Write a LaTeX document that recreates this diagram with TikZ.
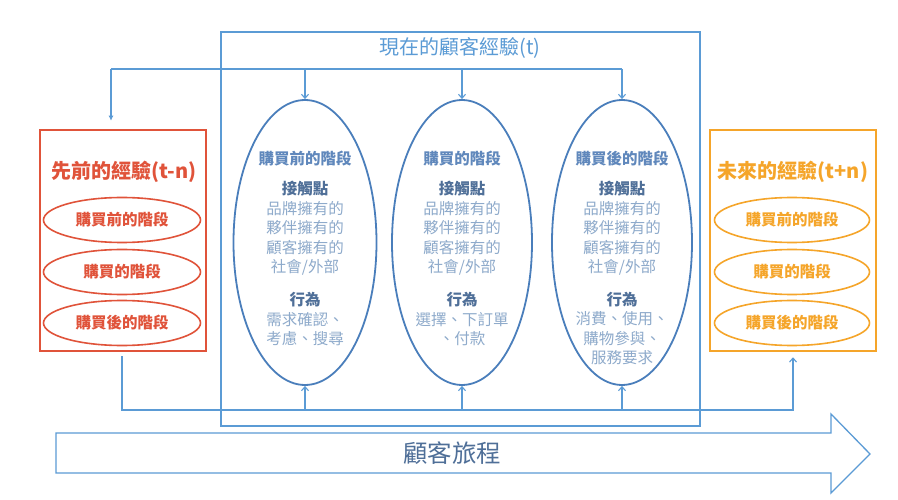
\documentclass[tikz,border=0pt]{standalone}
\usepackage{fontspec}
\usetikzlibrary{arrows.meta,shapes.geometric}
\newfontfamily\cjk{Noto Sans CJK TC}
\definecolor{bline}{HTML}{5B9BD5}
\definecolor{bedge}{HTML}{4A7EBB}
\definecolor{bhead}{HTML}{6088BC}
\definecolor{bbody}{HTML}{8EAACB}
\definecolor{bdark}{HTML}{4F6F98}
\definecolor{rcol}{HTML}{E0533A}
\definecolor{ocol}{HTML}{F5A52A}
\tikzset{
  box/.style={draw, rectangle, inner sep=0pt, line width=2.5pt},
  pill/.style={draw, ellipse, inner sep=0pt, line width=1.6pt, font=\cjk\bfseries\fontsize{15.5}{18}\selectfont},
  stage/.style={draw=bedge, ellipse, inner sep=0pt, line width=1.8pt},
  conn/.style={draw=bline, line width=1.1pt},
  arr/.style={conn, -{Straight Barb[length=4pt,width=7pt]}},
  head/.style={font=\cjk\bfseries\fontsize{15.5}{19.5}\selectfont, text=bhead, align=center, inner sep=0pt},
  body/.style={font=\cjk\fontsize{15.5}{19.5}\selectfont, text=bbody, align=center, inner sep=0pt},
}
\newcommand{\bh}[1]{{\bfseries\color{bdark}#1}}
\begin{document}
\begin{tikzpicture}[x=1pt,y=-1pt]
\useasboundingbox (0,0) rectangle (898,500);
\fill[white] (0,0) rectangle (898,500);

% big journey arrow
\draw[bline, line width=1.3pt, line join=miter] (56,433) -- (831,433) -- (831,414) -- (870,454) -- (831,493) -- (831,473) -- (56,473) -- cycle;
\node[font=\cjk\fontsize{24.5}{28}\selectfont, text=bdark, inner sep=0pt] (journey) at (452,453) {顧客旅程};

% current experience box
\node[box, draw=bline, minimum width=479pt, minimum height=394pt] (cbox) at (460.5,229) {};
\node[font=\cjk\fontsize{20}{22}\selectfont, text=bline, inner sep=0pt] (ctitle) at (460,48) {現在的顧客經驗(t)};

% previous experience
\node[box, draw=rcol, minimum width=166pt, minimum height=221pt] (rbox) at (123,240.5) {};
\node[font=\cjk\bfseries\fontsize{20}{22}\selectfont, text=rcol, inner sep=0pt] (rtitle) at (124,172) {先前的經驗(t-n)};
\node[pill, draw=rcol, text=rcol, minimum width=157pt, minimum height=45pt] (r1) at (122,220) {購買前的階段};
\node[pill, draw=rcol, text=rcol, minimum width=157pt, minimum height=45pt] (r2) at (122,272) {購買的階段};
\node[pill, draw=rcol, text=rcol, minimum width=157pt, minimum height=45pt] (r3) at (122,323) {購買後的階段};

% future experience
\node[box, draw=ocol, minimum width=166pt, minimum height=221pt] (obox) at (793,240.5) {};
\node[font=\cjk\bfseries\fontsize{20}{22}\selectfont, text=ocol, inner sep=0pt] (otitle) at (793,172) {未來的經驗(t+n)};
\node[pill, draw=ocol, text=ocol, minimum width=155pt, minimum height=45pt] (o1) at (792,220) {購買前的階段};
\node[pill, draw=ocol, text=ocol, minimum width=155pt, minimum height=45pt] (o2) at (792,272) {購買的階段};
\node[pill, draw=ocol, text=ocol, minimum width=155pt, minimum height=45pt] (o3) at (792,323) {購買後的階段};

% stage ellipses
\node[stage, minimum width=143pt, minimum height=285pt] (e1) at (305,242.5) {};
\node[stage, minimum width=140pt, minimum height=285pt] (e2) at (462,242.5) {};
\node[stage, minimum width=140pt, minimum height=285pt] (e3) at (622,242.5) {};

\node[head] (h1) at (305,159) {購買前的階段};
\node[head] (h2) at (462,159) {購買的階段};
\node[head] (h3) at (622,159) {購買後的階段};

\node[body] (t1) at (305,228.5) {\bh{接觸點}\\品牌擁有的\\夥伴擁有的\\顧客擁有的\\社會/外部};
\node[body] (t2) at (462,228.5) {\bh{接觸點}\\品牌擁有的\\夥伴擁有的\\顧客擁有的\\社會/外部};
\node[body] (t3) at (622,228.5) {\bh{接觸點}\\品牌擁有的\\夥伴擁有的\\顧客擁有的\\社會/外部};

\node[body] (b1) at (305,319) {\bh{行為}\\需求確認、\\考慮、搜尋};
\node[body] (b2) at (462,319) {\bh{行為}\\選擇、下訂單\\、付款};
\node[body] (b3) at (622,328.5) {\bh{行為}\\消費、使用、\\購物參與、\\服務要求};

% top connectors
\coordinate (tl) at (111,69);
\coordinate (tr) at (622,69);
\draw[conn] (tl) -- (tr);
\draw[conn, -{Latex[length=5pt,width=5pt]}, shorten >=8pt] (tl) -- (tl |- rbox.north);
\draw[arr] (e1.north |- tl) -- (e1.north);
\draw[arr] (e2.north |- tl) -- (e2.north);
\draw[arr] (tr) -- (e3.north);

% bottom connectors
\coordinate (bl) at (122,410);
\draw[arr, shorten <=4pt, shorten >=5pt] (rbox.south -| bl) -- (bl) -- (obox.south |- bl) -- (obox.south);
\draw[arr] (e1.south |- bl) -- (e1.south);
\draw[arr] (e2.south |- bl) -- (e2.south);
\draw[arr] (e3.south |- bl) -- (e3.south);
\end{tikzpicture}
\end{document}
